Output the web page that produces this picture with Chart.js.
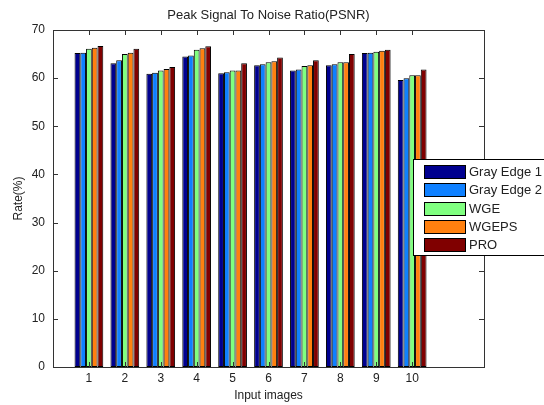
<!DOCTYPE html>
<html>
<head>
<meta charset="utf-8">
<script src="https://cdn.jsdelivr.net/npm/chart.js@4/dist/chart.umd.min.js"></script>
<style>
  html, body { margin: 0; padding: 0; background: #fff; }
  #wrap { width: 544px; height: 405px; }
</style>
</head>
<body>
<div id="wrap"><canvas id="myChart" width="544" height="405"></canvas></div>
<script>
// PSNR per input image, one array per method
var categories = ['1', '2', '3', '4', '5', '6', '7', '8', '9', '10'];
var seriesNames = ['Gray Edge 1', 'Gray Edge 2', 'WGE', 'WGEPS', 'PRO'];
var grayEdge1 = [65.2, 63.1, 60.9, 64.5, 61.0, 62.7, 61.6, 62.7, 65.2, 59.6];
var grayEdge2 = [65.3, 63.7, 61.1, 64.7, 61.2, 62.9, 61.8, 62.9, 65.3, 60.0];
var wge       = [66.1, 65.0, 61.6, 65.9, 61.6, 63.3, 62.5, 63.3, 65.5, 60.6];
var wgeps     = [66.3, 65.3, 61.9, 66.2, 61.6, 63.5, 62.7, 63.3, 65.7, 60.6];
var pro       = [66.7, 66.1, 62.3, 66.6, 63.1, 64.3, 63.7, 65.0, 65.9, 61.8];
var yTicks = [0, 10, 20, 30, 40, 50, 60, 70];

var colors = ['#00008f', '#0f80ff', '#80ff80', '#ff800f', '#800000'];
var allSeries = [grayEdge1, grayEdge2, wge, wgeps, pro];

// x runs 0..12 like the matlab axes, images sit at 1..10
var labels = [''].concat(categories, ['', '']);

var datasets = allSeries.map(function(vals, i) {
    return {
        label: seriesNames[i],
        data: [null].concat(vals, [null, null]),
        backgroundColor: colors[i],
        borderColor: '#000',
        borderWidth: 1,
        borderSkipped: false,
        categoryPercentage: 0.8,
        barPercentage: 1.0
    };
});

var FONT = '"Liberation Sans", Arial, sans-serif';
var INK = '#222';

var matlabAxes = {
    id: 'matlabAxes',
    afterDraw: function(chart) {
        var ctx = chart.ctx;
        var a = chart.chartArea;
        var xs = chart.scales.x, ys = chart.scales.y;
        ctx.save();

        // box
        ctx.strokeStyle = '#333';
        ctx.lineWidth = 1;
        ctx.strokeRect(Math.round(a.left) + 0.5, Math.round(a.top) + 0.5,
            Math.round(a.right - a.left), Math.round(a.bottom - a.top));

        // inward ticks
        ctx.beginPath();
        yTicks.forEach(function(v) {
            var y = Math.round(ys.getPixelForValue(v)) + 0.5;
            ctx.moveTo(a.left, y); ctx.lineTo(a.left + 5, y);
            ctx.moveTo(a.right, y); ctx.lineTo(a.right - 5, y);
        });
        categories.forEach(function(c, i) {
            var x = Math.round(xs.getPixelForValue(i + 1)) + 0.5;
            ctx.moveTo(x, a.top); ctx.lineTo(x, a.top + 5);
            ctx.moveTo(x, a.bottom); ctx.lineTo(x, a.bottom - 5);
        });
        ctx.stroke();

        ctx.fillStyle = INK;
        ctx.font = '12px ' + FONT;
        ctx.textAlign = 'right';
        ctx.textBaseline = 'middle';
        yTicks.forEach(function(v) {
            ctx.fillText(String(v), a.left - 8, ys.getPixelForValue(v));
        });
        ctx.textAlign = 'center';
        categories.forEach(function(c, i) {
            ctx.fillText(c, xs.getPixelForValue(i + 1), a.bottom + 12);
        });

        ctx.fillText('Input images', (a.left + a.right) / 2, 396);
        ctx.save();
        ctx.translate(19, (a.top + a.bottom) / 2);
        ctx.rotate(-Math.PI / 2);
        ctx.fillText('Rate(%)', 0, 0);
        ctx.restore();
        ctx.font = '13px ' + FONT;
        ctx.fillText('Peak Signal To Noise Ratio(PSNR)', (a.left + a.right) / 2, 15);

        // legend box, runs off the right edge
        var lx = 413.5, ly = 159.5;
        ctx.fillStyle = '#fff';
        ctx.fillRect(lx, ly, 150, 96);
        ctx.strokeStyle = '#000';
        ctx.strokeRect(lx, ly, 150, 96);
        ctx.textAlign = 'left';
        chart.data.datasets.forEach(function(ds, i) {
            var sy = Math.round(165 + i * 18.3) + 0.5;
            ctx.fillStyle = ds.backgroundColor;
            ctx.fillRect(424.5, sy, 41, 13);
            ctx.strokeStyle = '#000';
            ctx.strokeRect(424.5, sy, 41, 13);
            ctx.fillStyle = INK;
            ctx.fillText(ds.label, 469, sy + 7);
        });
        ctx.restore();
    }
};

var ctx = document.getElementById('myChart').getContext('2d');
var chart = new Chart(ctx, {
    type: 'bar',
    data: { labels: labels, datasets: datasets },
    options: {
        responsive: false,
        animation: false,
        devicePixelRatio: 1,
        layout: { padding: { left: 53, right: 60, top: 30, bottom: 38 } },
        plugins: {
            legend: { display: false },
            title: { display: false },
            tooltip: { enabled: false }
        },
        scales: {
            x: { display: false, offset: false, grid: { display: false } },
            y: { display: false, min: 0, max: 70, grid: { display: false } }
        }
    },
    plugins: [matlabAxes]
});
</script>
</body>
</html>
